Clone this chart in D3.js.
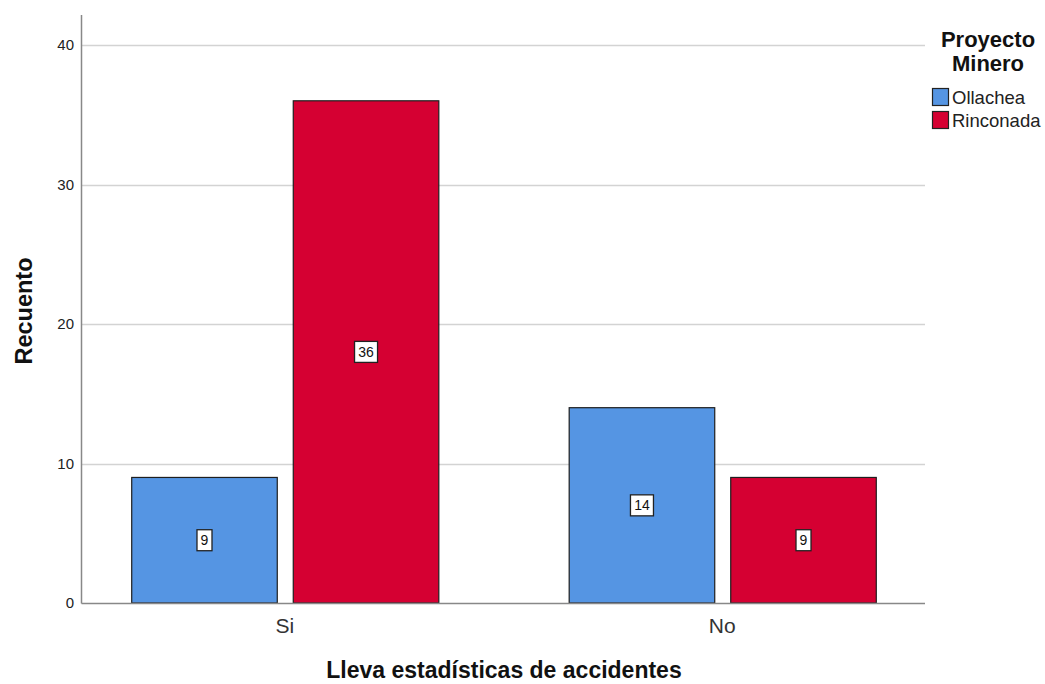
<!DOCTYPE html>
<html>
<head>
<meta charset="utf-8">
<script src="https://cdn.jsdelivr.net/npm/d3@7"></script>
<style>
  html, body { margin: 0; padding: 0; background: #fff; }
  svg { display: block; font-family: "Liberation Sans", Arial, sans-serif; }
</style>
</head>
<body>
<svg id="chart" width="1045" height="684"></svg>
<script>
// Counts per category and mining project
const categories = ["Si", "No"];
const seriesNames = ["Ollachea", "Rinconada"];
const ollachea = [9, 14];
const rinconada = [36, 9];
const yTicks = [0, 10, 20, 30, 40];
const colors = ["#5595E3", "#D50032"];

const series = [ollachea, rinconada];
const rows = categories.map((c, i) => ({
  cat: c,
  values: seriesNames.map((s, j) => ({ key: s, idx: j, value: series[j][i] }))
}));

const svg = d3.select("#chart");
const plotLeft = 82, plotRight = 925, plotTop = 15, plotBottom = 603;

const x0 = d3.scaleBand().domain(categories).range([plotLeft, plotRight])
  .paddingInner(0.298).paddingOuter(0.1125);
const x1 = d3.scaleBand().domain(seriesNames).range([0, x0.bandwidth()])
  .paddingInner(0.099);
const y = d3.scaleLinear().domain([0, 40]).range([plotBottom, 45]);

// horizontal grid
svg.append("g").selectAll("line").data(yTicks.filter(t => t > 0)).join("line")
  .attr("x1", plotLeft).attr("x2", plotRight)
  .attr("y1", d => Math.round(y(d)) + 0.5).attr("y2", d => Math.round(y(d)) + 0.5)
  .attr("stroke", "#d3d3d3").attr("stroke-width", 1.5);

// y tick labels
const yAxis = d3.axisLeft(y).tickValues(yTicks).tickSize(0).tickPadding(8);
const gy = svg.append("g").attr("transform", `translate(${plotLeft},0)`).call(yAxis);
gy.select(".domain").remove();
gy.selectAll("text").attr("font-size", 15).attr("fill", "#222")
  .attr("font-family", "Liberation Sans, Arial, sans-serif");

// bars
const groups = svg.append("g").selectAll("g").data(rows).join("g")
  .attr("transform", d => `translate(${x0(d.cat)},0)`);

groups.selectAll("rect").data(d => d.values).join("rect")
  .attr("x", d => x1(d.key) + 0.5)
  .attr("y", d => y(d.value))
  .attr("width", x1.bandwidth())
  .attr("height", d => y(0) - y(d.value))
  .attr("fill", d => colors[d.idx])
  .attr("stroke", "#1e1e1e").attr("stroke-width", 1.2);

// value labels inside bars
const boxW = d => String(d.value).length * 8 + 7;
const lab = groups.selectAll("g.lab").data(d => d.values).join("g").attr("class", "lab")
  .attr("transform", d => `translate(${x1(d.key) + x1.bandwidth() / 2 + 0.5},${y(d.value / 2)})`);
lab.append("rect")
  .attr("x", d => -boxW(d) / 2)
  .attr("y", -10.5)
  .attr("width", boxW)
  .attr("height", 21)
  .attr("fill", "#fff").attr("stroke", "#222").attr("stroke-width", 1.3);
lab.append("text").text(d => d.value)
  .attr("text-anchor", "middle").attr("dy", "0.36em")
  .attr("font-size", 14).attr("fill", "#111");

// axes lines
svg.append("line").attr("x1", plotLeft - 0.5).attr("x2", plotLeft - 0.5)
  .attr("y1", plotTop).attr("y2", plotBottom + 0.5)
  .attr("stroke", "#888").attr("stroke-width", 1.5);
svg.append("line").attr("x1", plotLeft - 0.5).attr("x2", plotRight)
  .attr("y1", plotBottom + 0.5).attr("y2", plotBottom + 0.5)
  .attr("stroke", "#888").attr("stroke-width", 1.5);

// x category labels
const xAxis = d3.axisBottom(x0).tickSize(0).tickPadding(15);
const gx = svg.append("g").attr("transform", `translate(0,${plotBottom})`).call(xAxis);
gx.select(".domain").remove();
gx.selectAll("text").attr("font-size", 21).attr("fill", "#333")
  .attr("font-family", "Liberation Sans, Arial, sans-serif");

// axis titles
svg.append("text").text("Lleva estadísticas de accidentes")
  .attr("x", 504).attr("y", 678).attr("text-anchor", "middle")
  .attr("font-size", 23).attr("font-weight", "bold").attr("fill", "#111");
svg.append("text").text("Recuento")
  .attr("transform", "translate(32,311) rotate(-90)").attr("text-anchor", "middle")
  .attr("font-size", 23.5).attr("font-weight", "bold").attr("fill", "#111");

// legend
const lg = svg.append("g");
lg.append("text").text("Proyecto").attr("x", 988).attr("y", 47)
  .attr("text-anchor", "middle").attr("font-size", 22).attr("font-weight", "bold").attr("fill", "#111");
lg.append("text").text("Minero").attr("x", 988).attr("y", 71)
  .attr("text-anchor", "middle").attr("font-size", 22).attr("font-weight", "bold").attr("fill", "#111");
const items = lg.selectAll("g.item").data(seriesNames).join("g").attr("class", "item")
  .attr("transform", (d, i) => `translate(932,${88 + i * 23})`);
items.append("rect").attr("x", 0.5).attr("y", 0.5).attr("width", 16).attr("height", 17)
  .attr("fill", (d, i) => colors[i]).attr("stroke", "#222").attr("stroke-width", 1.2);
items.append("text").text(d => d).attr("x", 20).attr("y", 16)
  .attr("font-size", 18.5).attr("fill", "#222");
</script>
</body>
</html>
